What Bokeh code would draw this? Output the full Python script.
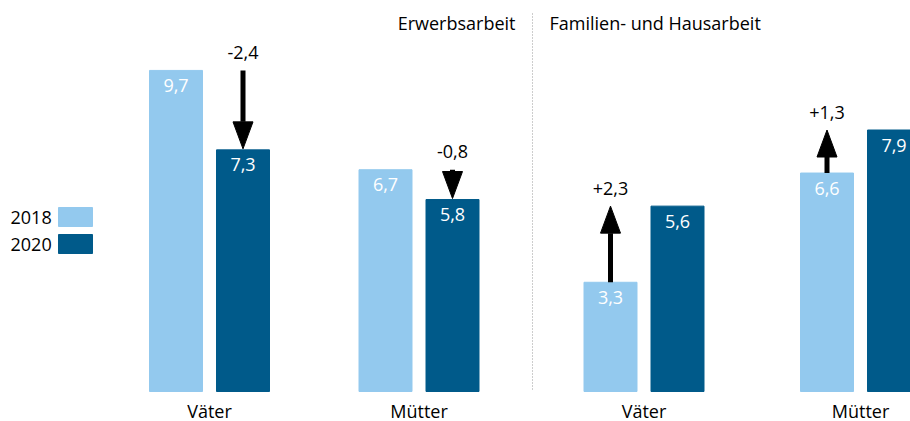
from bokeh.plotting import figure
from bokeh.models import Range1d, ColumnDataSource
from bokeh.core.properties import value
from bokeh.embed import file_html
from bokeh.resources import INLINE

# ---- data ----
groups = ["Väter", "Mütter", "Väter", "Mütter"]
sections = ["Erwerbsarbeit", "Familien- und Hausarbeit"]
years = ["2018", "2020"]
v2018 = [9.7, 6.7, 3.3, 6.6]
v2020 = [7.3, 5.8, 5.6, 7.9]
change_labels = ["-2,4", "-0,8", "+2,3", "+1,3"]

# ---- layout (pixel positions of the reference) ----
W, H = 910, 421
BASE = 391.0         # image y of zero line
SCALE = 33.1         # px per unit
group_x = [209, 418.5, 643.5, 860]
BAR_W = 53
BAR_OFF = 33.5
FONT = value("Open Sans")
C18 = "#93C9EE"
C20 = "#005A8A"


def iy(img_y):
    return (BASE - img_y) / SCALE


p = figure(width=W, height=H, output_backend="svg", toolbar_location=None,
           x_range=Range1d(0, W), y_range=Range1d(iy(H), iy(0)),
           min_border=0, outline_line_color=None)
p.axis.visible = False
p.grid.visible = False
p.background_fill_color = "white"
p.border_fill_color = "white"

x18 = [g - BAR_OFF for g in group_x]
x20 = [g + BAR_OFF for g in group_x]
lab18 = [f"{v:.1f}".replace(".", ",") for v in v2018]
lab20 = [f"{v:.1f}".replace(".", ",") for v in v2020]

src = ColumnDataSource(dict(x18=x18, x20=x20, v18=v2018, v20=v2020,
                            l18=lab18, l20=lab20))
p.vbar(x="x18", top="v18", bottom=0, width=BAR_W, color=C18, source=src)
p.vbar(x="x20", top="v20", bottom=0, width=BAR_W, color=C20, source=src)

p.text(x="x18", y="v18", text="l18", source=src, text_font=FONT,
       text_font_size="18px", text_color="white", text_align="center",
       text_baseline="middle", y_offset=15)
p.text(x="x20", y="v20", text="l20", source=src, text_font=FONT,
       text_font_size="18px", text_color="white", text_align="center",
       text_baseline="middle", y_offset=15)

# ---- change arrows ----
HEAD_H = 27 / SCALE
HEAD_W = 20
ax, ys, yb, hx, hy, ly = [], [], [], [], [], []
for i in range(len(v2018)):
    a, b = v2018[i], v2020[i]
    if b < a:
        x = x20[i]
        tip = b + 1 / SCALE
        base = tip + HEAD_H
    else:
        x = x18[i]
        tip = b
        base = tip - HEAD_H
    ax.append(x)
    ys.append(a)
    yb.append(base)
    hx.append([x - HEAD_W / 2, x + HEAD_W / 2, x])
    hy.append([base, base, tip])
    ly.append(max(a, b))

p.segment(x0=ax, y0=ys, x1=ax, y1=yb, line_color="black", line_width=5)
p.patches(xs=hx, ys=hy, fill_color="black", line_color="black", line_width=1)
p.text(x=ax, y=ly, text=change_labels, text_font=FONT, text_font_size="18px",
       text_color="black", text_align="center", text_baseline="middle",
       y_offset=-18)

# ---- category labels ----
p.text(x=group_x, y=[iy(410)] * 4, text=groups, text_font=FONT,
       text_font_size="18px", text_color="black", text_align="center",
       text_baseline="middle")

# ---- section headers and divider ----
p.text(x=[515], y=[iy(22)], text=[sections[0]], text_font=FONT,
       text_font_size="18px", text_color="black", text_align="right",
       text_baseline="middle")
p.text(x=[549], y=[iy(22)], text=[sections[1]], text_font=FONT,
       text_font_size="18px", text_color="black", text_align="left",
       text_baseline="middle")
p.segment(x0=[532], y0=[iy(13)], x1=[532], y1=[iy(390)],
          line_color="#9a9a9a", line_width=1, line_dash="1 2")

# ---- legend ----
p.quad(left=[58, 58], right=[92, 92], top=[iy(207), iy(234)],
       bottom=[iy(226), iy(253)], color=[C18, C20])
p.text(x=[10, 10], y=[iy(216.5), iy(243.5)], text=years, text_font=FONT,
       text_font_size="18px", text_color="black", text_align="left",
       text_baseline="middle")

open("out.html", "w").write(file_html(p, INLINE))
